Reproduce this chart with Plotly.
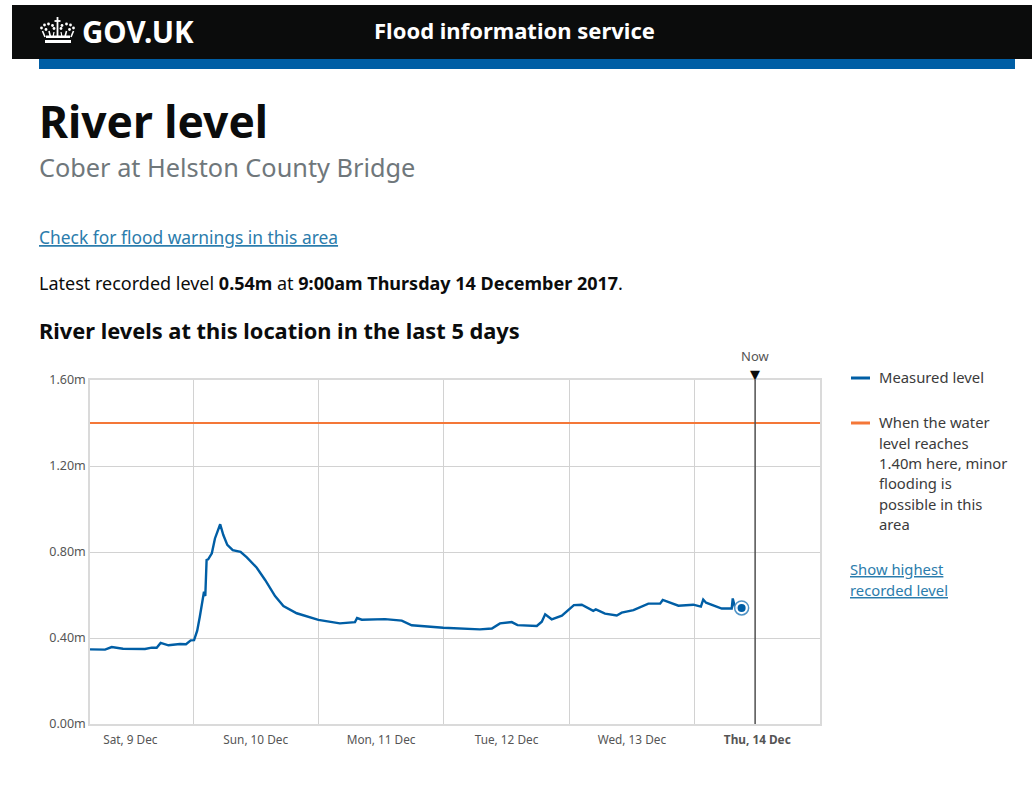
import pandas as pd
import plotly.graph_objects as go

BASE = pd.Timestamp("2017-12-09 00:00")
# Hours after 00:00 on 9 Dec
hours = [4.29, 7.16, 8.44, 10.6, 14.8, 16.1, 17.05, 17.8, 19.3, 21.5, 22.66, 23.56, 24.2, 24.8, 25.3,
         25.86, 26.1, 26.35, 26.6, 26.9, 27.6, 28.2, 29.2, 29.8, 30.56, 31.6, 33.1, 34.3, 36.2, 37.8,
         39.7, 41.3, 43.85, 48, 52.1, 55.0, 55.4, 56.3, 60.75, 63.95, 65.85, 71.9, 74.8, 78.9, 81.2,
         82.75, 85, 86.1, 89.8, 90.75, 91.4, 92.65, 94.6, 96.9, 98.4, 100.6, 101.1, 102.85, 105.1,
         106.05, 108.3, 111.15, 113.4, 113.9, 116.9, 119.75, 121.2, 121.65, 122.2, 125.2, 127.1,
         127.3, 127.55, 127.75, 129]
levels = [.347, .346, .358, .350, .349, .355, .355, .377, .366, .372, .371, .389, .390, .434, .499,
          .592, .615, .595, .763, .766, .794, .863, .929, .879, .833, .809, .801, .775, .727, .670,
          .595, .549, .515, .484, .468, .474, .493, .485, .488, .481, .459, .448, .446, .440, .444,
          .468, .474, .460, .456, .476, .510, .487, .504, .553, .555, .526, .533, .513, .505,
          .518, .530, .560, .560, .577, .550, .555, .546, .579, .564, .537, .537,
          .584, .560, .541, .540]
times = [BASE + pd.Timedelta(hours=h) for h in hours]

threshold = 1.40
now_time = pd.Timestamp("2017-12-14 11:35")
x_start = pd.Timestamp("2017-12-09 04:17")
x_end = pd.Timestamp("2017-12-15 00:00")
y_ticks = [0, 0.4, 0.8, 1.2, 1.6]
y_labels = ["0.00m", "0.40m", "0.80m", "1.20m", "1.60m"]
day_ticks = pd.date_range("2017-12-09 12:00", periods=6, freq="D")
day_labels = ["Sat, 9 Dec", "Sun, 10 Dec", "Mon, 11 Dec", "Tue, 12 Dec", "Wed, 13 Dec", "<b>Thu, 14 Dec</b>"]

DARK = "#005ea5"
ORANGE = "#f47738"
GRID = "#d2d2d2"
BORDER = "#dadada"
LINK = "#2b7cac"
FONT = "Noto Sans"
L, R, T, B = 90, 820, 380, 724


def xp(x):
    return (x - L) / (R - L)


def yp(y):
    return (B - y) / (B - T)


fig = go.Figure()
fig.add_trace(go.Scatter(x=[x_start, x_end], y=[threshold, threshold], mode="lines",
                         line=dict(color=ORANGE, width=2), hoverinfo="skip"))
fig.add_trace(go.Scatter(x=times, y=levels, mode="lines",
                         line=dict(color=DARK, width=2.4), hoverinfo="skip"))
fig.add_trace(go.Scatter(x=[times[-1]], y=[levels[-1]], mode="markers", cliponaxis=False,
                         marker=dict(size=14, color="rgba(255,255,255,0.9)",
                                     line=dict(color="#4f93c6", width=1.5))))
fig.add_trace(go.Scatter(x=[times[-1]], y=[levels[-1]], mode="markers", cliponaxis=False,
                         marker=dict(size=8, color=DARK)))
fig.add_trace(go.Scatter(x=[now_time, now_time], y=[0, 1.6], mode="lines", cliponaxis=False,
                         line=dict(color="#505050", width=1.5), hoverinfo="skip"))

shapes = []


def rect(x0, y0, x1, y1, color):
    shapes.append(dict(type="rect", xref="paper", yref="paper", x0=xp(x0), x1=xp(x1),
                       y0=yp(y0), y1=yp(y1), fillcolor=color, line_width=0, layer="above"))


def stroke(pts, width=1.6):
    path = "M" + " L".join(f"{xp(a):.5f},{yp(b):.5f}" for a, b in pts)
    shapes.append(dict(type="path", xref="paper", yref="paper", path=path,
                       line=dict(color="white", width=width), layer="above"))


def dot(cx, cy, r=1.4):
    shapes.append(dict(type="circle", xref="paper", yref="paper", x0=xp(cx - r), x1=xp(cx + r),
                       y0=yp(cy + r), y1=yp(cy - r), fillcolor="white", line_width=0, layer="above"))


rect(12, 5, 1032, 59, "#0b0c0c")
rect(39, 59, 1015, 69, "#005ea5")
rect(851, 376.5, 870, 379.5, DARK)
rect(851, 421.5, 870, 424.5, ORANGE)

# Crown logo in the header
rect(45, 40, 71, 43, "white")
rect(46, 35.5, 70, 38, "white")
stroke([(57.5, 17), (57.5, 36)], 1.8)
stroke([(54.5, 21), (60.5, 21)], 1.8)
stroke([(45, 37), (42.5, 31)])
stroke([(71, 37), (73.5, 31)])
stroke([(50.5, 37), (49, 31)])
stroke([(65, 37), (66.5, 31)])
stroke([(53, 37), (54, 32)], 1.2)
stroke([(62, 37), (61, 32)], 1.2)
for cx, cy in [(41.5, 28), (44.5, 25), (48.5, 24), (52.5, 25.5), (54, 28.5), (62, 25.5),
               (66.5, 24), (70.5, 25), (73.5, 28), (46, 29.5), (69.5, 29.5), (61, 28.5)]:
    dot(cx, cy)

annotations = []


def text(x, y, s, size, color="#0b0c0c", family=FONT, anchor="left"):
    annotations.append(dict(xref="paper", yref="paper", x=xp(x), y=yp(y), text=s, showarrow=False,
                            xanchor=anchor, yanchor="middle", align="left",
                            borderpad=0, font=dict(size=size, color=color, family=family)))


text(81, 31, "<b>GOV.UK</b>", 29.5, "#ffffff")
text(373, 30, "<b>Flood information service</b>", 22, "#ffffff")
text(37.5, 121, "<b>River level</b>", 44.3)
text(38, 167, "Cober at Helston County Bridge", 25.3, "#6f777b")
text(38, 237, "<u>Check for flood warnings in this area</u>", 17.4, LINK)
text(38, 283, "Latest recorded level <b>0.54m</b> at <b>9:00am Thursday 14 December 2017</b>.", 18)
text(38, 330, "<b>River levels at this location in the last 5 days</b>", 21.8)
text(754.5, 355.5, "Now", 13, "#555555", anchor="center")
annotations.append(dict(xref="x", yref="paper", x=now_time, y=yp(380), text="▼", showarrow=False,
                        xanchor="center", yanchor="bottom", borderpad=0, yshift=-3,
                        font=dict(size=13, color="#0b0c0c", family="DejaVu Sans")))
text(878, 377, "Measured level", 14.8, "#3b3b3b")
for y, line in zip([422, 442.5, 463, 483, 503.5, 524],
                   ["When the water", "level reaches", "1.40m here, minor", "flooding is",
                    "possible in this", "area"]):
    text(878, y, line, 14.8, "#3b3b3b")
text(849, 568.5, "<u>Show highest</u>", 14.8, LINK)
text(849, 589.5, "<u>recorded level</u>", 14.8, LINK)

fig.update_layout(
    width=1032, height=788, margin=dict(l=L, r=1032 - R, t=T, b=788 - B, autoexpand=False),
    paper_bgcolor="white", plot_bgcolor="white", showlegend=False,
    shapes=shapes, annotations=annotations,
    font=dict(family=FONT),
    xaxis=dict(type="date", range=[x_start, x_end], tickmode="array", tickvals=list(day_ticks),
               ticktext=day_labels, ticks="", showgrid=False, zeroline=False, ticklabelstandoff=4,
               tickfont=dict(size=11.8, color="#555555", family=FONT),
               showline=True, linecolor=BORDER, linewidth=1.5, mirror=True,
               minor=dict(dtick=86400000, tick0="2017-12-09 00:00", showgrid=True,
                          gridcolor=GRID, gridwidth=1, ticks="")),
    yaxis=dict(range=[0, 1.6], tickmode="array", tickvals=y_ticks, ticktext=y_labels, ticks="",
               gridcolor=GRID, gridwidth=1, zeroline=False,
               tickfont=dict(size=12.5, color="#555555", family=FONT),
               showline=True, linecolor=BORDER, linewidth=1.5, mirror=True),
)

fig.write_html("out.html", config={"displayModeBar": False},
               post_script="document.body.style.margin='0';document.body.style.overflow='hidden';")
